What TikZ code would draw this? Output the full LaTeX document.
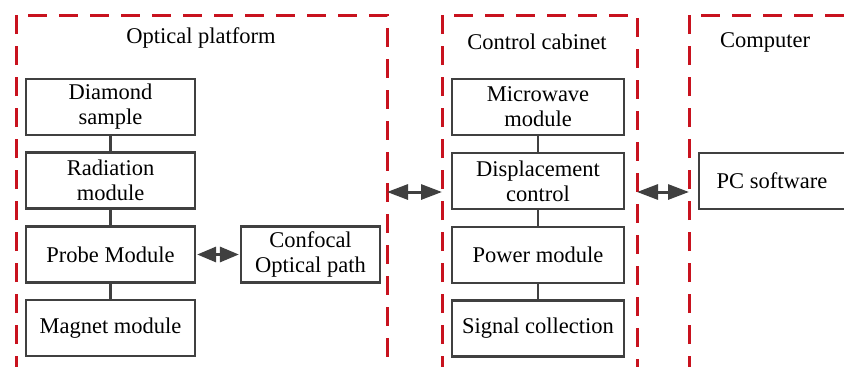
\documentclass[tikz,border=0pt]{standalone}
\usepackage{fontspec}
\setmainfont{Liberation Serif}
\usetikzlibrary{arrows.meta}
\definecolor{dred}{RGB}{200,18,30}
\definecolor{dgray}{RGB}{64,64,64}
\tikzset{
  mod/.style={draw=dgray, line width=2.2pt, fill=white, minimum height=56pt, align=center, inner sep=0pt, font=\fontsize{22.5}{25}\selectfont},
  grp/.style={draw=dred, line width=3pt, dash pattern=on 19pt off 12pt},
  link/.style={draw=dgray, line width=2.4pt},
  dbl/.style={draw=dgray, line width=3pt, {Triangle[length=21pt,width=15pt]}-{Triangle[length=21pt,width=15pt]}, shorten <=0pt, shorten >=0pt},
  sdbl/.style={draw=dgray, line width=3pt, {Triangle[length=19pt,width=15pt]}-{Triangle[length=19pt,width=15pt]}, shorten <=0pt, shorten >=0pt},
  ttl/.style={font=\fontsize{22.5}{25}\selectfont, inner sep=0pt}
}
\begin{document}
\begin{tikzpicture}[x=1pt,y=-1pt]
\useasboundingbox (0,0) rectangle (844,367);
% group frames (open at bottom)
\draw[grp] (16,375) -- (16,15) -- (387,15) -- (387,375);
\draw[grp] (442,375) -- (442,15) -- (637,15) -- (637,375);
\draw[grp] (689,375) -- (689,15) -- (860,15);
\coordinate (oR) at (387,192);
\coordinate (cL) at (442,192);
\coordinate (cR) at (637,192);
\coordinate (pL) at (689,192);
% titles
\node[ttl] (t1) at (201,38) {Optical platform};
\node[ttl] (t2) at (537,42) {Control cabinet};
\node[ttl] (t3) at (765,42) {Computer};
% optical platform modules
\node[mod, minimum width=169pt] (dia) at (110.5,107) {Diamond\\sample};
\node[mod, minimum width=169pt] (rad) at (110.5,180.5) {Radiation\\module};
\node[mod, minimum width=169pt] (prb) at (110.5,254.5) {Probe Module};
\node[mod, minimum width=169pt] (mag) at (110.5,328) {Magnet module};
\node[mod, minimum width=139pt] (cfc) at (310.5,254.5) {Confocal\\Optical path};
% control cabinet modules
\node[mod, minimum width=172pt] (mw) at (538,107) {Microwave\\module};
\node[mod, minimum width=172pt] (dsp) at (538,181) {Displacement\\control};
\node[mod, minimum width=172pt] (pwr) at (538,255) {Power module};
\node[mod, minimum width=172pt] (sig) at (538,328.5) {Signal collection};
% computer
\node[mod, minimum width=146pt] (pc) at (772,181) {PC software};
% links
\draw[link] (dia) -- (rad);
\draw[link] (rad) -- (prb);
\draw[link] (prb) -- (mag);
\draw[link] (mw) -- (dsp);
\draw[link] (dsp) -- (pwr);
\draw[link] (pwr) -- (sig);
\draw[sdbl] ([xshift=1pt]prb.east) -- ([xshift=-1pt]cfc.west);
\draw[dbl] (oR) -- (cL);
\draw[dbl] (cR) -- (pL);
\end{tikzpicture}
\end{document}
